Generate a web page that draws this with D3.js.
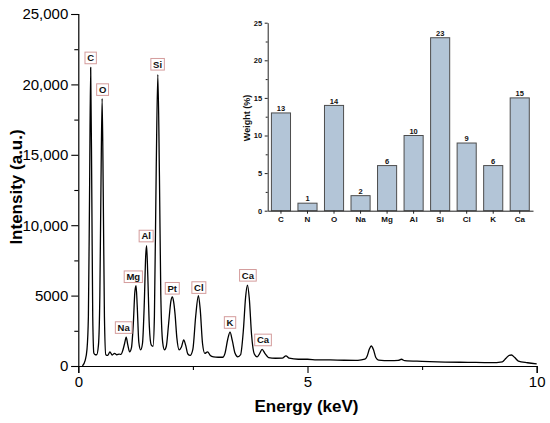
<!DOCTYPE html>
<html>
<head>
<meta charset="utf-8">
<script src="https://cdn.jsdelivr.net/npm/d3@7"></script>
<style>
  body { margin: 0; background: #fff; }
  svg { display: block; font-family: Arial, "Liberation Sans", sans-serif; }
</style>
</head>
<body>
<svg id="chart" width="550" height="423"></svg>
<script>
// ---------- DATA ----------
// EDS spectrum: energy (keV) and intensity (a.u.)
const energy = [0.09,0.15,0.19,0.22,0.245,0.27,0.295,0.315,0.34,0.37,
  0.40,0.44,0.47,0.495,0.52,0.545,0.57,0.60,0.64,
  0.69,0.74,0.79,0.84,0.89,0.93,0.97,
  1.01,1.045,1.08,1.12,
  1.16,1.20,1.235,1.26,1.285,1.32,1.36,
  1.40,1.44,1.47,1.49,1.515,1.55,1.59,1.63,
  1.66,1.70,1.735,1.77,1.80,1.84,1.88,
  1.92,1.97,2.02,2.05,2.08,2.11,2.15,2.20,
  2.25,2.30,2.34,2.39,2.44,
  2.50,2.56,2.62,2.66,2.71,2.76,2.82,2.88,2.95,3.05,3.15,
  3.20,3.26,3.31,3.36,3.42,3.48,
  3.54,3.60,3.65,3.69,3.73,3.78,3.84,3.90,
  3.95,4.01,4.07,4.15,4.30,4.45,4.53,4.60,4.80,5.00,5.20,5.50,5.80,6.10,6.25,
  6.30,6.35,6.39,6.44,6.49,6.55,6.80,6.98,7.05,7.12,7.50,8.00,8.50,9.00,9.25,
  9.33,9.40,9.45,9.52,9.60,9.80,10.0];
const intensity = [0,400,1200,3500,12000,21200,12000,3500,900,800,
  800,1500,5000,13000,19000,12000,3500,800,750,
  1000,780,900,800,850,820,1100,
  1600,2050,1500,1000,
  1300,3000,5300,5700,4300,1700,1150,
  1600,4500,7800,8550,6500,2800,1500,1400,
  3500,14000,20700,13500,5000,1700,1150,
  1400,3000,4600,4900,4550,3700,2000,1150,
  1350,1850,1500,850,750,
  1200,3500,5000,4000,1600,900,1000,750,650,620,620,
  900,1900,2400,1800,900,650,
  800,2500,4900,5750,4800,2200,850,650,
  850,1180,900,600,550,560,720,560,480,480,440,430,410,400,480,
  700,1200,1420,1150,600,420,380,400,480,380,330,280,260,240,300,
  550,760,780,600,350,230,150];

// Peak labels: element, energy (keV) and intensity of label centre
const peakNames = ["C","O","Si","Na","Mg","Al","Pt","Cl","K","Ca","Ca"];
const peakEnergy = [0.27,0.53,1.73,0.99,1.20,1.48,2.05,2.63,3.31,3.70,4.03];
const peakLabelY = [21880,19630,21430,2730,6340,9230,5520,5570,3090,6440,1850];

// Main axis ticks
const xTicks = [0,5,10];
const xMinorTicks = [2.5,7.5];
const yTicks = [0,5000,10000,15000,20000,25000];
const yMinorTicks = [2500,7500,12500,17500,22500];

// Inset: weight percentages
const elements = ["C","N","O","Na","Mg","Al","Si","Cl","K","Ca"];
const weights = [13,1,14,2,6,10,23,9,6,15];
const insetYTicks = [0,5,10,15,20,25];
const insetYMinor = [2.5,7.5,12.5,17.5,22.5];

// ---------- DRAW ----------
const svg = d3.select("#chart");

const x = d3.scaleLinear().domain([0,10]).range([78.3,536.7]);
const y = d3.scaleLinear().domain([0,25000]).range([366,14]);

// axes
const gx = svg.append("g").attr("transform",`translate(0,${y(0)})`);
gx.call(d3.axisBottom(x).tickValues(xTicks).tickSize(7).tickPadding(3).tickFormat(d3.format("d")));
gx.append("g").call(d3.axisBottom(x).tickValues(xMinorTicks).tickSize(4).tickFormat(""));
gx.selectAll(".domain").attr("stroke","#000").attr("stroke-width",1.2);
gx.selectAll(".tick line").attr("stroke","#000").attr("stroke-width",1.1);
gx.selectAll(".tick text").attr("font-size",15).attr("fill","#000").attr("font-family","Arial, 'Liberation Sans', sans-serif");
gx.select(":scope > g .domain").remove();

const gy = svg.append("g").attr("transform",`translate(${x(0)},0)`);
gy.call(d3.axisLeft(y).tickValues(yTicks).tickSize(7).tickPadding(3)
  .tickFormat(d => d >= 10000 ? d3.format(",")(d) : String(d)));
gy.append("g").call(d3.axisLeft(y).tickValues(yMinorTicks).tickSize(4).tickFormat(""));
gy.selectAll(".domain").attr("stroke","#000").attr("stroke-width",1.2);
gy.selectAll(".tick line").attr("stroke","#000").attr("stroke-width",1.1);
gy.selectAll(".tick text").attr("font-size",15).attr("fill","#000").attr("font-family","Arial, 'Liberation Sans', sans-serif");
gy.select(":scope > g .domain").remove();

// axis titles
svg.append("text").attr("x",306.5).attr("y",412).attr("text-anchor","middle")
  .attr("font-size",17).attr("font-weight","bold").text("Energy (keV)");
svg.append("text").attr("transform","translate(21.5,187) rotate(-90)").attr("text-anchor","middle")
  .attr("font-size",17).attr("font-weight","bold").text("Intensity (a.u.)");

// spectrum
const pts = energy.map((e,i) => [e, intensity[i]]);
svg.append("path").datum(pts)
  .attr("fill","none").attr("stroke","#000").attr("stroke-width",1.3).attr("stroke-linejoin","round")
  .attr("d", d3.line().x(d => x(d[0])).y(d => y(d[1])).curve(d3.curveMonotoneX));

// peak labels
peakNames.forEach((name,i) => {
  const g = svg.append("g").attr("transform",`translate(${x(peakEnergy[i])},${y(peakLabelY[i])})`);
  const rect = g.append("rect");
  const t = g.append("text").attr("text-anchor","middle").attr("dy","0.36em")
    .attr("font-size",9.5).attr("font-weight","bold").attr("fill","#111").text(name);
  const w = t.node().getComputedTextLength() + 4.5;
  rect.attr("x",-w/2).attr("y",-5.8).attr("width",w).attr("height",11.6)
    .attr("fill","#fff").attr("stroke","#d49c9c").attr("stroke-width",1);
});

// ---------- INSET ----------
const xb = d3.scaleBand().domain(elements).range([267.7,533]).paddingInner(0.28).paddingOuter(0.14);
const yb = d3.scaleLinear().domain([0,25]).range([210.7,22.7]);

svg.append("g").selectAll("rect").data(elements).join("rect")
  .attr("x", d => xb(d)).attr("width", xb.bandwidth())
  .attr("y", (d,i) => yb(weights[i])).attr("height", (d,i) => yb(0) - yb(weights[i]))
  .attr("fill","#b3c5d7").attr("stroke","#4d4d4d").attr("stroke-width",1);

svg.append("g").selectAll("text").data(elements).join("text")
  .attr("x", d => xb(d) + xb.bandwidth()/2).attr("y", (d,i) => yb(weights[i]) - 1.8)
  .attr("text-anchor","middle").attr("font-size",7.5).attr("font-weight","bold").attr("fill","#111")
  .text((d,i) => weights[i]);

const ix = svg.append("g").attr("transform",`translate(0,${yb(0)})`);
ix.call(d3.axisBottom(xb).tickSize(3).tickPadding(3).tickSizeOuter(0));
ix.selectAll(".tick text").attr("font-size",8).attr("font-weight","bold").attr("fill","#111")
  .attr("font-family","Arial, 'Liberation Sans', sans-serif");
ix.selectAll(".domain,.tick line").attr("stroke","#222").attr("stroke-width",1);

const iy = svg.append("g").attr("transform",`translate(267.7,0)`);
iy.call(d3.axisLeft(yb).tickValues(insetYTicks).tickSize(3).tickPadding(2.5).tickSizeOuter(0));
iy.append("g").call(d3.axisLeft(yb).tickValues(insetYMinor).tickSize(2).tickFormat("").tickSizeOuter(0));
iy.select(":scope > g .domain").remove();
iy.selectAll(".tick text").attr("font-size",7.5).attr("font-weight","bold").attr("fill","#111")
  .attr("font-family","Arial, 'Liberation Sans', sans-serif");
iy.selectAll(".domain,.tick line").attr("stroke","#222").attr("stroke-width",1);

svg.append("text").attr("transform","translate(249.5,118) rotate(-90)").attr("text-anchor","middle")
  .attr("font-size",9).attr("font-weight","bold").attr("fill","#111").text("Weight (%)");
</script>
</body>
</html>
